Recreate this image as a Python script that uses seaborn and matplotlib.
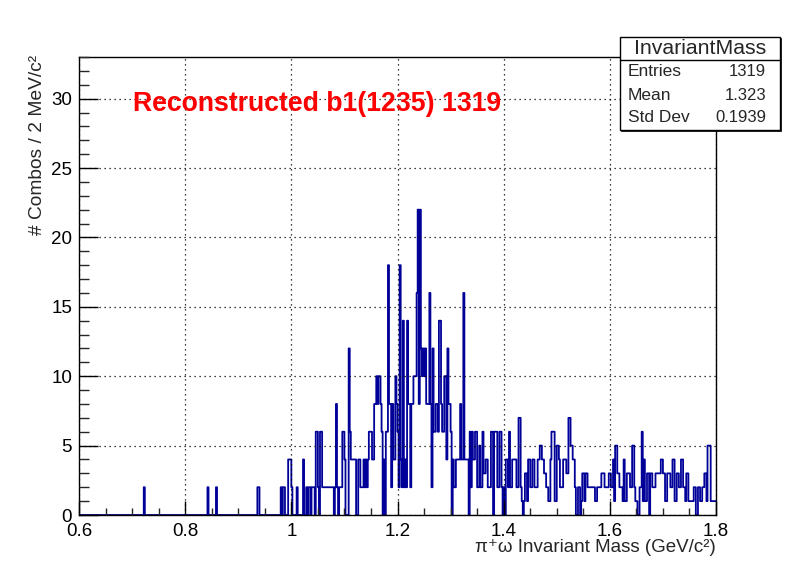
import numpy as np
import pandas as pd
import matplotlib
matplotlib.use("Agg")
import matplotlib.pyplot as plt
import seaborn as sns
from matplotlib.patches import Rectangle
from matplotlib.ticker import MultipleLocator, FuncFormatter

# ---------------- data (2 MeV bins from 0.6 to 1.8 GeV) ----------------
x_min, x_max, n_bins = 0.6, 1.8, 600

# bins 0-199  (0.600 - 1.000 GeV)
counts_a = [
    0,0,0,0,0,0,0,0,0,0, 0,0,0,0,0,0,0,0,0,0,
    0,0,0,0,0,0,0,0,0,0, 0,0,0,0,0,0,0,0,0,0,
    0,0,0,0,0,0,0,0,0,0, 0,0,0,0,0,0,0,0,0,0,
    0,2,0,0,0,0,0,0,0,0, 0,0,0,0,0,0,0,0,0,0,
    0,0,0,0,0,0,0,0,0,0, 0,0,0,0,0,0,0,0,0,0,
    0,0,0,0,0,0,0,0,0,0, 0,0,0,0,0,0,0,0,0,0,
    0,2,0,0,0,0,0,0,0,2, 0,0,0,0,0,0,0,0,0,0,
    0,0,0,0,0,0,0,0,0,0, 0,0,0,0,0,0,0,0,0,0,
    0,0,0,0,0,0,0,0,2,2, 0,0,0,0,0,0,0,0,0,0,
    0,0,0,0,0,0,0,0,0,0, 2,0,2,2,0,0,0,4,4,4,
]
# bins 200-399  (1.000 - 1.400 GeV)
counts_b = [
    2,0,0,0,0,2,0,0,0,0, 0,4,0,0,2,0,2,2,0,2,
    2,2,0,6,6,2,0,6,6,2, 2,2,2,2,2,2,2,2,2,2,
    0,2,8,2,0,2,2,2,6,6, 4,0,0,0,12,6,4,4,4,4,
    4,0,0,4,4,2,2,2,4,2, 4,2,4,6,6,6,4,4,8,8,
    10,8,10,10,8,6,0,4,0,6, 6,18,8,8,2,8,4,4,10,8,
    6,2,18,4,2,14,2,4,2,14, 8,8,2,8,8,10,10,10,16,22,
    8,22,12,10,12,10,12,8,8,8, 16,8,2,12,6,6,8,8,6,14,
    14,8,6,6,10,10,4,12,8,8, 6,0,4,2,2,4,4,4,4,8,
    4,4,16,4,4,4,4,0,6,2, 6,4,4,6,6,2,2,5,2,2,
    6,3,3,4,4,2,2,2,6,6, 0,6,6,6,2,2,6,6,2,0,
]
# bins 400-599  (1.400 - 1.800 GeV)
counts_c = [
    2,0,4,4,2,6,2,2,4,4, 4,4,2,2,7,7,2,1,0,1,
    3,3,1,4,4,2,2,4,4,2, 2,2,4,4,5,5,4,4,3,3,
    2,2,1,1,4,6,6,6,1,1, 5,5,4,2,2,2,4,4,4,3,
    3,7,7,5,5,4,4,2,0,0, 2,2,0,1,3,3,1,3,3,2,
    2,2,2,2,2,2,1,1,2,2, 2,2,3,3,3,2,2,2,2,3,
    3,2,2,4,1,5,5,3,3,2, 2,2,1,4,1,1,3,3,3,2,
    2,5,5,2,1,1,0,0,2,2, 6,1,4,1,1,3,3,0,3,3,
    2,2,2,3,3,3,3,3,4,4, 3,3,1,1,3,3,3,2,2,4,
    4,1,1,3,3,2,2,4,4,2, 2,1,3,3,1,1,1,1,1,2,
    2,0,0,2,2,1,1,2,2,3, 3,1,5,5,5,1,1,1,1,1,
]

title_text = "Reconstructed b1(1235) 1319"
stats_name = "InvariantMass"
stats_labels = ["Entries", "Mean", "Std Dev"]
stats_values = ["1319", "1.323", "0.1939"]
x_label = "\u03c0\u207a\u03c9 Invariant Mass (GeV/c\u00b2)"
y_label = "# Combos / 2 MeV/c\u00b2"

# ---------------- build table ----------------
edges = np.linspace(x_min, x_max, n_bins + 1)
centers = 0.5 * (edges[:-1] + edges[1:])
counts = np.array(counts_a + counts_b + counts_c, dtype=float)
df = pd.DataFrame({"mass": centers, "count": counts})

# ---------------- style ----------------
sns.set_style("white")
fam = ["Liberation Sans", "DejaVu Sans"]
plt.rcParams["font.family"] = fam
plt.rcParams["axes.linewidth"] = 1.0

W, H = 796, 572
fig = plt.figure(figsize=(W / 100, H / 100), dpi=100)
L, R, T, B = 79, 716, 57, 515
ax = fig.add_axes([L / W, 1 - B / H, (R - L) / W, (B - T) / H])

sns.histplot(data=df, x="mass", weights="count", bins=[float(e) for e in edges],
             element="step", fill=False, color="#000099",
             linewidth=1.3, ax=ax)

ax.set_xlim(x_min, x_max)
ax.set_ylim(0, 33)
ax.set_xlabel("")
ax.set_ylabel("")

for s in ax.spines.values():
    s.set_visible(True)
    s.set_color("black")
    s.set_linewidth(1.0)

ax.xaxis.set_major_locator(MultipleLocator(0.2))
ax.xaxis.set_minor_locator(MultipleLocator(0.05))
ax.yaxis.set_major_locator(MultipleLocator(5))
ax.yaxis.set_minor_locator(MultipleLocator(1))
ax.xaxis.set_major_formatter(FuncFormatter(lambda v, p: f"{v:g}"))
ax.yaxis.set_major_formatter(FuncFormatter(lambda v, p: f"{v:g}"))

ax.tick_params(axis="x", which="major", direction="in", length=10, width=1,
               top=False, bottom=True, labelsize=13.5, pad=6, colors="black")
ax.tick_params(axis="x", which="minor", direction="in", length=5, width=1,
               top=False, bottom=True)
ax.tick_params(axis="y", which="major", direction="in", length=14, width=1,
               left=True, right=False, labelsize=13.5, pad=5, colors="black")
ax.tick_params(axis="y", which="minor", direction="in", length=7, width=1,
               left=True, right=False)

ax.grid(True, which="major", color="black", linestyle=(0, (1, 3)), linewidth=0.9)
ax.set_axisbelow(False)

# title text inside the frame
ax.text((133 - L) / (R - L), (B - 104) / (B - T), title_text,
        transform=ax.transAxes, ha="left", va="center",
        fontsize=19.2, fontweight="bold", color="#ff0000", family=fam)

# axis titles
fig.text(R / W, 1 - 548 / H, x_label, ha="right", va="center",
         fontsize=13.5, family=fam)
fig.text(38 / W, 1 - 55 / H, y_label, ha="center", va="top",
         rotation=90, fontsize=13.8, family=fam)

# stats box
bx0, bx1, by0, by1 = 620, 780, 37, 130
shadow = Rectangle((bx0 / W + 1.0 / W, 1 - by1 / H - 1.0 / H),
                   (bx1 - bx0) / W, (by1 - by0) / H,
                   transform=fig.transFigure, facecolor="black",
                   edgecolor="black", linewidth=0.5, zorder=9)
box = Rectangle((bx0 / W, 1 - by1 / H), (bx1 - bx0) / W, (by1 - by0) / H,
                transform=fig.transFigure, facecolor="white",
                edgecolor="black", linewidth=1.0, zorder=10)
fig.patches.extend([shadow, box])
fig.add_artist(plt.Line2D([bx0 / W, bx1 / W], [1 - 60 / H, 1 - 60 / H],
                          transform=fig.transFigure, color="black",
                          linewidth=1.0, zorder=11))
fig.text((bx0 + bx1) / 2 / W, 1 - 49 / H, stats_name, ha="center",
         va="center", fontsize=15.3, family=fam, zorder=12)
row_y = [72, 95, 118]
for lab, val, yy in zip(stats_labels, stats_values, row_y):
    fig.text(628 / W, 1 - yy / H, lab, ha="left", va="center",
             fontsize=12.5, family=fam, zorder=12)
    fig.text(766 / W, 1 - yy / H, val, ha="right", va="center",
             fontsize=12, family=fam, zorder=12)

fig.savefig("out.png", dpi=100, facecolor="white")
